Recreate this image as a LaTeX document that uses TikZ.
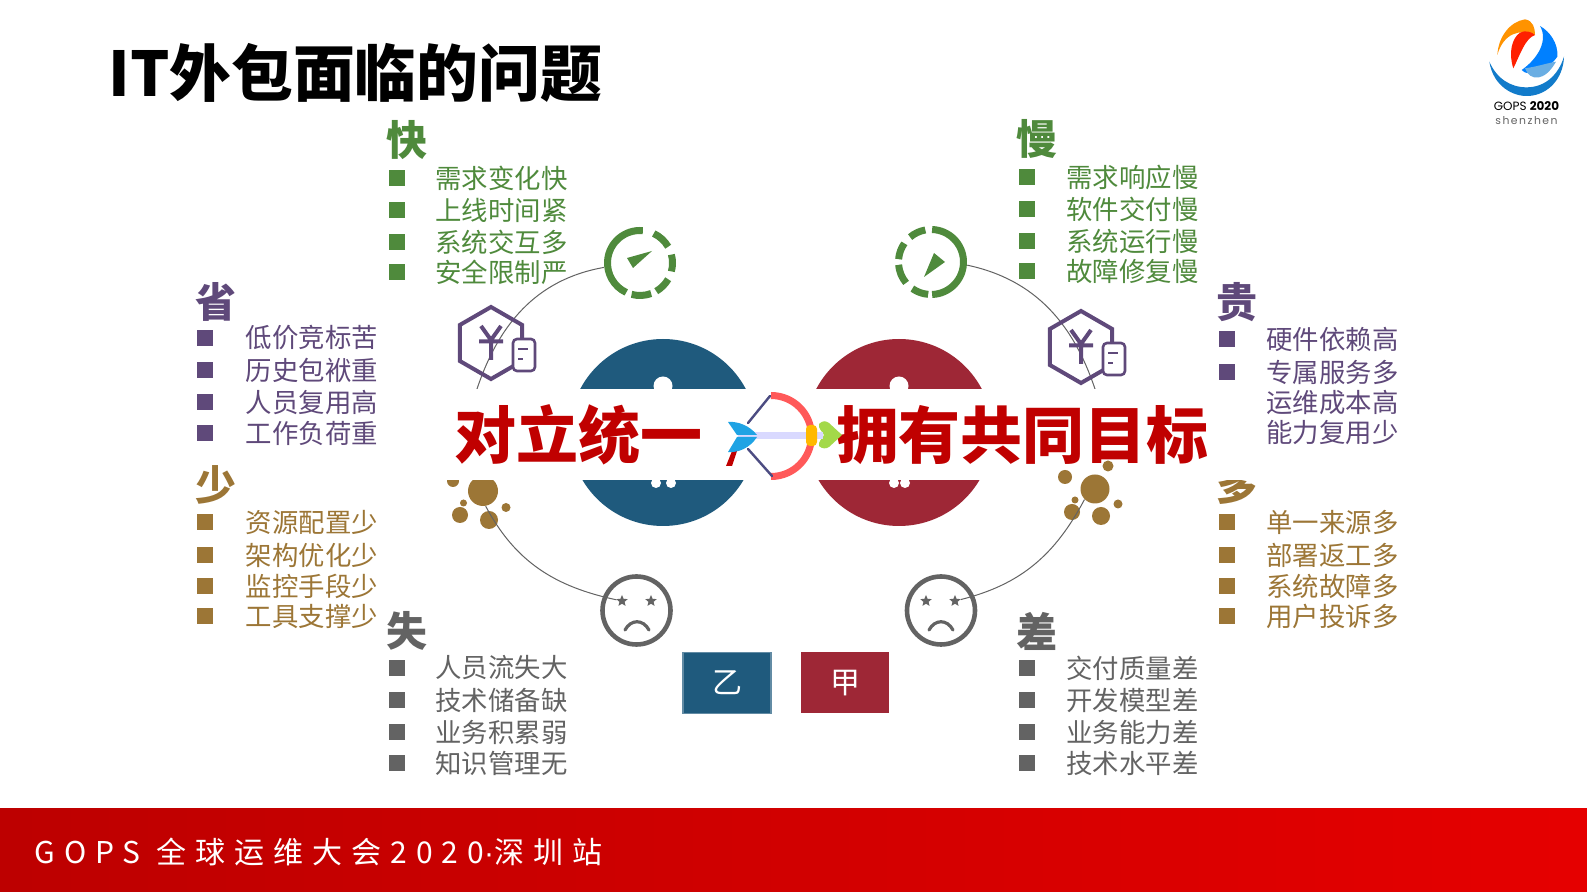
\documentclass[tikz,border=0pt]{standalone}
\usepackage{fontspec}
\setmainfont{Noto Sans CJK SC}
\newfontfamily\barfont[LetterSpace=30]{Noto Sans CJK SC}
\newfontfamily\bardot[LetterSpace=30]{Liberation Sans}
\newfontfamily\logofont{Poppins}
\newfontfamily\logocity[LetterSpace=14]{Poppins}
\usetikzlibrary{positioning,shapes.geometric}
\definecolor{kgreen}{HTML}{4F8A3C}
\definecolor{kpurple}{HTML}{5F497A}
\definecolor{kgold}{HTML}{9C7636}
\definecolor{kgray}{HTML}{636363}
\definecolor{yiblue}{HTML}{1F5A7D}
\definecolor{jiared}{HTML}{9E2736}
\definecolor{slogan}{HTML}{C00000}
\tikzset{
  head/.style={font=\fontsize{20.5}{20.5}\selectfont\bfseries,inner sep=0pt},
  itemtxt/.style={font=\fontsize{13.2}{13.2}\selectfont,anchor=west,inner sep=0pt},
  itembul/.style={rectangle,minimum size=8pt,inner sep=0pt},
  bigcirc/.style={circle,minimum size=93.5pt,inner sep=0pt},
  holeb/.style={circle,fill=white,minimum size=9.5pt,inner sep=0pt},
  holes/.style={circle,fill=white,minimum size=5pt,inner sep=0pt},
  spot/.style={circle,minimum size=36pt,inner sep=0pt},
  ringline/.style={kgreen,line width=3.5pt},
  arcline/.style={kgray,line width=.5pt},
  bead/.style={circle,fill=kgold,inner sep=0pt},
  facering/.style={circle,draw=kgray,line width=2.3pt,minimum size=34pt,inner sep=0pt},
  eye/.style={star,star points=5,star point ratio=2.2,fill=kgray,minimum size=6pt,inner sep=0pt},
  mouth/.style={kgray,line width=1.6pt,line cap=round},
  sidebox/.style={minimum width=44pt,minimum height=30.5pt,inner sep=0pt,text=white,font=\fontsize{15}{15}\selectfont},
  bigtxt/.style={font=\fontsize{31}{31}\selectfont\bfseries,text=slogan,inner sep=0pt},
  hexline/.style={regular polygon,regular polygon sides=6,shape border rotate=30,draw=kpurple,line width=2pt,minimum size=36pt,inner sep=0pt},
  docline/.style={draw=kpurple,fill=white,line width=1.3pt,rounded corners=2pt},
}
% one list: name, colour, bullet x, text x, rows
\newcommand{\itemcol}[5]{
  \foreach \yy/\lbl [count=\i] in {#5}{
    \node[itembul,fill=#2] (#1b\i) at (#3,-\yy) {};
    \node[itemtxt,text=#2] (#1\i) at (#4,-\yy) {\lbl};
  }
}
% money hexagon with the little sheet
\newcommand{\yenicon}[3]{
  \node[hexline] (#1) at (#2,#3) {};
  \begin{scope}[shift={(#2,#3)}]
    \draw[kpurple,line width=2pt] (-10,17) -- (0,3) -- (10,17) (0,3) -- (0,-17) (-12,1.5) -- (12,1.5);
    \draw[docline] (22,-28) rectangle (44,4);
    \draw[kpurple,line width=1pt] (27,-6) -- (37,-6) (27,-16) -- (32,-16);
  \end{scope}
}
\begin{document}
\begin{tikzpicture}[x=.5pt,y=.5pt]
  \useasboundingbox (0,0) rectangle (1587,-892);
  \fill[white] (0,0) rectangle (1587,-892);

  % two big discs
  \node[bigcirc,fill=yiblue] (discyi) at (663,-432.5) {};
  \node[bigcirc,fill=jiared] (discjia) at (899,-432.5) {};
  \node[holeb] at (663,-386) (holeyi) {};
  \node[holeb] at (899,-386) (holejia) {};
  \node[holes] at (656,-483) (holeyia) {};
  \node[holes] at (671,-483) (holeyib) {};
  \node[holes] at (894,-483) (holejiaa) {};
  \node[holes] at (905,-483) (holejiab) {};

  % clock icons
  \node[spot] (speedL) at (640,-263) {};
  \node[spot] (speedR) at (931,-262) {};
  \foreach \a/\b in {85/245,255/290,300/330,345/375,30/65}
    \draw[ringline] ([shift={(\a:32.5)}]speedL.center) arc[start angle=\a,end angle=\b,radius=32.5];
  \foreach \a/\b in {-88/88,100/130,145/175,185/220,235/265}
    \draw[ringline] ([shift={(\a:32.5)}]speedR.center) arc[start angle=\a,end angle=\b,radius=32.5];
  \fill[kgreen] (652,-251) -- (627,-258) -- (633,-268) -- cycle;
  \fill[kgreen] (945,-262) -- (934,-253) -- (924,-277) -- cycle;

  % left beads, cut by the band
  \node[bead,minimum size=15pt] (beadL) at (483,-491) {};
  \node[bead,minimum size=8pt] (beadLa) at (460,-515) {};
  \node[bead,minimum size=9pt] (beadLb) at (489,-520) {};
  \node[bead,minimum size=3.5pt] (beadLc) at (463.5,-503) {};
  \node[bead,minimum size=4.5pt] (beadLd) at (506,-507.5) {};
  \node[bead,minimum size=6pt] (beadLe) at (453,-481) {};

  % faces
  \node[facering] (faceL) at (636.5,-610.5) {};
  \node[facering] (faceR) at (941,-610.5) {};
  \node[eye] (eyeLa) at (622,-601) {};
  \node[eye] (eyeLb) at (651,-601) {};
  \node[eye] (eyeRa) at (926,-601) {};
  \node[eye] (eyeRb) at (955,-601) {};
  \draw[mouth] (625,-630) .. controls (631,-619) and (643,-619) .. (649,-630);
  \draw[mouth] (929,-630) .. controls (935,-619) and (947,-619) .. (953,-630);

  % thin arcs
  \coordinate (arcUL) at (476,-392);
  \coordinate (arcUR) at (1096,-392);
  \draw[arcline] (speedL.187) to[out=190,in=72] (arcUL);
  \draw[arcline] (speedR.-5) to[out=-12,in=108] (arcUR);
  \draw[arcline] (beadL.-80) to[out=-62,in=168] (eyeLa);

  % the header under the band
  \node[head,text=kgold] (duo) at (1237,-485) {多};
  % white band
  \fill[white] (430,-389) rectangle (1290,-480);

  % money icons
  \yenicon{yenL}{491}{-343}
  \yenicon{yenR}{1081}{-347}

  % right beads stay on top of the band
  \node[bead,minimum size=14.5pt] (beadR) at (1095,-489) {};
  \node[bead,minimum size=7pt] (beadRa) at (1065,-477) {};
  \node[bead,minimum size=5.5pt] (beadRb) at (1108,-466) {};
  \node[bead,minimum size=8pt] (beadRc) at (1072,-512) {};
  \node[bead,minimum size=9pt] (beadRd) at (1101,-516) {};
  \node[bead,minimum size=3.5pt] (beadRe) at (1075,-500) {};
  \node[bead,minimum size=4.5pt] (beadRf) at (1118,-504) {};
  \draw[arcline] (beadR.-135) to[out=-118,in=14] (eyeRb);

  % title
  \node[font=\fontsize{30.9}{30.9}\selectfont\bfseries,anchor=west,inner sep=0pt] (title) at (108,-73) {IT外包面临的问题};

  % lists
  \node[head,text=kgreen] (kuai) at (407,-140) {快};
  \itemcol{kuai}{kgreen}{397}{435}{178/需求变化快,210.5/上线时间紧,242/系统交互多,272/安全限制严}
  \node[head,text=kgreen] (man) at (1037,-139) {慢};
  \itemcol{man}{kgreen}{1027}{1066}{177/需求响应慢,209.5/软件交付慢,241/系统运行慢,271/故障修复慢}
  \node[head,text=kpurple] (sheng) at (216,-302) {省};
  \itemcol{sheng}{kpurple}{205}{245.5}{338/低价竞标苦,370/历史包袱重,402/人员复用高,433/工作负荷重}
  \node[head,text=kpurple] (gui) at (1237,-302) {贵};
  \itemcol{gui}{kpurple}{1227}{1266}{339/硬件依赖高,372/专属服务多}
  \node[itemtxt,text=kpurple] (gui3) at (1266,-403) {运维成本高};
  \node[itemtxt,text=kpurple] (gui4) at (1266,-433) {能力复用少};
  \node[head,text=kgold] (shao) at (216,-485) {少};
  \itemcol{shao}{kgold}{205}{245.5}{522/资源配置少,555/架构优化少,586/监控手段少,616/工具支撑少}
  \itemcol{duo}{kgold}{1227}{1266}{522/单一来源多,555/部署返工多,586/系统故障多,616/用户投诉多}
  \node[head,text=kgray] (shi) at (407,-631) {失};
  \itemcol{shi}{kgray}{397}{435}{668/人员流失大,700/技术储备缺,732/业务积累弱,763/知识管理无}
  \node[head,text=kgray] (cha) at (1037,-631) {差};
  \itemcol{cha}{kgray}{1027}{1066}{668/交付质量差,700/开发模型差,732/业务能力差,763/技术水平差}

  % slogan
  \node[bigtxt,anchor=west] (sloganL) at (454,-435) {对立统一};
  \node[bigtxt,anchor=west] (sloganR) at (836,-435) {拥有共同目标};
  \fill[slogan] (732,-451) -- (737,-451) -- (732,-466) -- (726,-466) -- cycle;

  % bow and arrow
  \draw[line width=3.5pt,color=red!65!white] (771,-395.5) arc[start angle=90,end angle=-90,radius=40.5];
  \draw[line width=1.2pt,color=black!70!blue!70!white,line cap=round] (770,-396) -- (748,-423) (748,-449) -- (772,-476);
  \fill[yellow!55!green!80!white] (819,-424) .. controls (823,-420) and (826,-421) .. (829,-423) -- (842,-435) -- (829,-447) .. controls (826,-449) and (822,-449) .. (819,-446) .. controls (818,-441) and (823,-438) .. (824,-435) .. controls (823,-432) and (818,-429) .. (819,-424) -- cycle;
  \draw[line width=3.5pt,color=blue!15!white] (738,-436) -- (823,-436);
  \fill[cyan!85!blue!90!white] (728,-422) .. controls (738,-421) and (750,-426) .. (757,-435) -- (737,-435) -- cycle;
  \fill[cyan!85!blue!90!white] (728,-452) .. controls (738,-453) and (750,-448) .. (757,-437) -- (737,-437) -- cycle;
  \fill[orange!55!yellow,rounded corners=2pt] (806,-425) rectangle (817,-446);

  % party boxes
  \node[sidebox,fill=yiblue,draw=yiblue!70!white,line width=.8pt] (yi) at (727,-683) {乙};
  \node[sidebox,fill=jiared] (jia) at (845,-683) {甲};

  % footer
  \shade[left color=red!74!black,right color=red!90!black] (0,-808.5) rectangle (1587,-892);
  \node[anchor=west,inner sep=0pt,text=white,font=\barfont\fontsize{15}{15}\selectfont] (footer) at (34,-852) {GOPS 全球运维大会2020{\bardot ·}深圳站};

  % logo
  \begin{scope}[shift={(1470,0)},scale=1/3]
    \fill[cyan!60!blue] (58,-185) .. controls (70,-260) and (130,-290) .. (175,-288) .. controls (235,-285) and (280,-235) .. (282,-170) .. controls (265,-225) and (225,-262) .. (170,-262) .. controls (120,-262) and (80,-235) .. (58,-185) -- cycle;
    \fill[orange!85!yellow] (82,-165) .. controls (85,-110) and (120,-65) .. (165,-58) .. controls (190,-62) and (195,-85) .. (195,-105) .. controls (150,-85) and (100,-100) .. (82,-165) -- cycle;
    \fill[red!75!orange] (195,-105) .. controls (165,-115) and (150,-165) .. (130,-205) .. controls (115,-160) and (125,-115) .. (150,-98) .. controls (165,-90) and (185,-95) .. (195,-105) -- cycle;
    \fill[blue!50!cyan] (210,-78) .. controls (235,-120) and (205,-175) .. (155,-210) .. controls (175,-235) and (235,-210) .. (262,-170) .. controls (265,-130) and (240,-95) .. (210,-78) -- cycle;
    \fill[cyan!70!blue!60!white] (165,-205) .. controls (180,-245) and (225,-245) .. (258,-185) .. controls (230,-190) and (200,-200) .. (165,-205) -- cycle;
  \end{scope}
  \node[inner sep=0pt,font=\logofont\fontsize{6}{6}\selectfont] (logoa) at (1526.5,-106) {GOPS {\bfseries 2020}};
  \node[inner sep=0pt,text=kgray,font=\logocity\fontsize{5.4}{5.4}\selectfont] (logob) at (1526.5,-120.5) {shenzhen};
\end{tikzpicture}
\end{document}
